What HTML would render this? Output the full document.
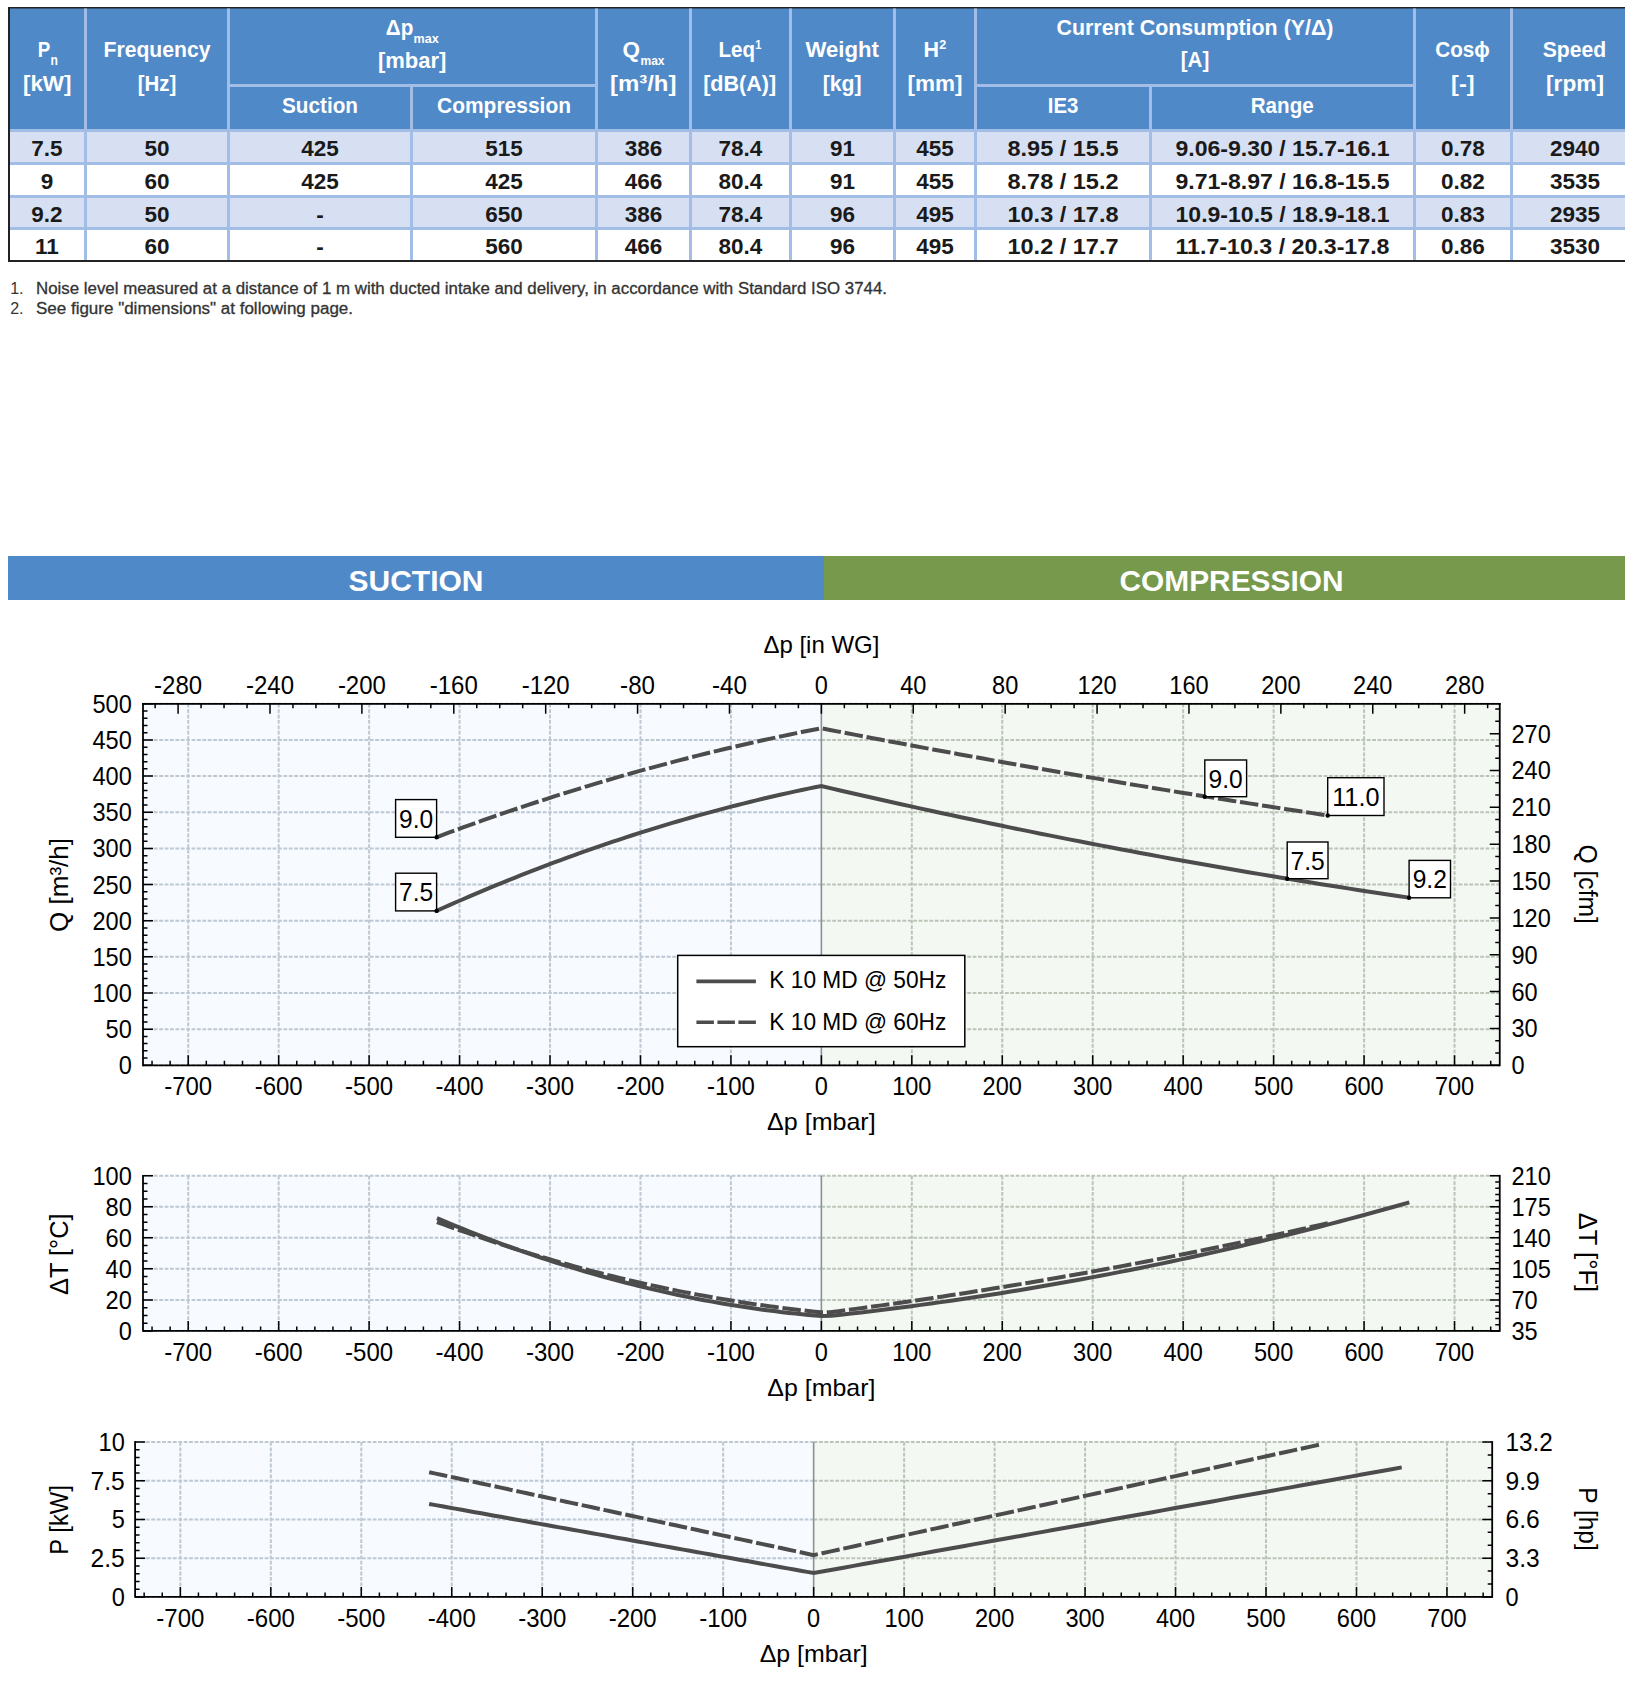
<!DOCTYPE html>
<html><head><meta charset="utf-8"><style>
html,body{margin:0;padding:0;background:#fff;}
body{width:1625px;height:1681px;overflow:hidden;position:relative;}
svg{position:absolute;left:0;top:0;}
text{font-family:"Liberation Sans",sans-serif;}
</style></head><body>
<svg width="1625" height="1681" viewBox="0 0 1625 1681">
<rect x="8" y="7" width="1617" height="255" fill="#222"/>
<rect x="10" y="8.5" width="1615" height="121" fill="#5089C8"/>
<rect x="10" y="132" width="1615" height="30" fill="#D7E0F2"/>
<rect x="10" y="165" width="1615" height="30" fill="#FFFFFF"/>
<rect x="10" y="198" width="1615" height="29" fill="#D7E0F2"/>
<rect x="10" y="230" width="1615" height="30" fill="#FFFFFF"/>
<rect x="10" y="129" width="1615" height="3" fill="#A3BEE6"/>
<rect x="10" y="162" width="1615" height="3" fill="#A3BEE6"/>
<rect x="10" y="195" width="1615" height="3" fill="#A3BEE6"/>
<rect x="10" y="227" width="1615" height="3" fill="#A3BEE6"/>
<rect x="8" y="260" width="1617" height="2" fill="#222"/>
<rect x="84" y="8.5" width="3" height="251.5" fill="#A3BEE6"/>
<rect x="227" y="8.5" width="3" height="251.5" fill="#A3BEE6"/>
<rect x="595" y="8.5" width="3" height="251.5" fill="#A3BEE6"/>
<rect x="689" y="8.5" width="3" height="251.5" fill="#A3BEE6"/>
<rect x="789" y="8.5" width="3" height="251.5" fill="#A3BEE6"/>
<rect x="893" y="8.5" width="3" height="251.5" fill="#A3BEE6"/>
<rect x="974" y="8.5" width="3" height="251.5" fill="#A3BEE6"/>
<rect x="1413" y="8.5" width="3" height="251.5" fill="#A3BEE6"/>
<rect x="1510" y="8.5" width="3" height="251.5" fill="#A3BEE6"/>
<rect x="410" y="84" width="3" height="176" fill="#A3BEE6"/>
<rect x="1149" y="84" width="3" height="176" fill="#A3BEE6"/>
<rect x="230" y="84" width="365" height="3" fill="#A3BEE6"/>
<rect x="977" y="84" width="436" height="3" fill="#A3BEE6"/>
<text x="37.80" y="57.20" font-size="22.5" text-anchor="start" fill="#FFFFFF" font-weight="bold" textLength="12.50" lengthAdjust="spacingAndGlyphs" >P</text>
<text x="50.40" y="65.30" font-size="14" text-anchor="start" fill="#FFFFFF" font-weight="bold" textLength="7.40" lengthAdjust="spacingAndGlyphs" >n</text>
<text x="47.20" y="90.80" font-size="22.5" text-anchor="middle" fill="#FFFFFF" font-weight="bold" textLength="48.50" lengthAdjust="spacingAndGlyphs" >[kW]</text>
<text x="157.00" y="57.20" font-size="22.5" text-anchor="middle" fill="#FFFFFF" font-weight="bold" textLength="107.00" lengthAdjust="spacingAndGlyphs" >Frequency</text>
<text x="157.00" y="90.80" font-size="22.5" text-anchor="middle" fill="#FFFFFF" font-weight="bold" textLength="38.50" lengthAdjust="spacingAndGlyphs" >[Hz]</text>
<text x="385.80" y="35.10" font-size="22.5" text-anchor="start" fill="#FFFFFF" font-weight="bold" textLength="27.50" lengthAdjust="spacingAndGlyphs" >Δp</text>
<text x="413.50" y="42.90" font-size="13" text-anchor="start" fill="#FFFFFF" font-weight="bold" textLength="25.20" lengthAdjust="spacingAndGlyphs" >max</text>
<text x="412.20" y="67.60" font-size="22.5" text-anchor="middle" fill="#FFFFFF" font-weight="bold" textLength="68.50" lengthAdjust="spacingAndGlyphs" >[mbar]</text>
<text x="320.00" y="113.00" font-size="22.5" text-anchor="middle" fill="#FFFFFF" font-weight="bold" textLength="76.00" lengthAdjust="spacingAndGlyphs" >Suction</text>
<text x="504.00" y="113.00" font-size="22.5" text-anchor="middle" fill="#FFFFFF" font-weight="bold" textLength="134.00" lengthAdjust="spacingAndGlyphs" >Compression</text>
<text x="622.50" y="57.20" font-size="22.5" text-anchor="start" fill="#FFFFFF" font-weight="bold" textLength="17.50" lengthAdjust="spacingAndGlyphs" >Q</text>
<text x="640.50" y="65.20" font-size="13" text-anchor="start" fill="#FFFFFF" font-weight="bold" textLength="24.00" lengthAdjust="spacingAndGlyphs" >max</text>
<text x="643.20" y="90.80" font-size="22.5" text-anchor="middle" fill="#FFFFFF" font-weight="bold" textLength="66.50" lengthAdjust="spacingAndGlyphs" >[m³/h]</text>
<text x="718.50" y="57.20" font-size="22.5" text-anchor="start" fill="#FFFFFF" font-weight="bold" textLength="36.50" lengthAdjust="spacingAndGlyphs" >Leq</text>
<text x="755.20" y="49.20" font-size="13" text-anchor="start" fill="#FFFFFF" font-weight="bold" textLength="6.20" lengthAdjust="spacingAndGlyphs" >1</text>
<text x="739.70" y="90.80" font-size="22.5" text-anchor="middle" fill="#FFFFFF" font-weight="bold" textLength="73.00" lengthAdjust="spacingAndGlyphs" >[dB(A)]</text>
<text x="842.20" y="57.20" font-size="22.5" text-anchor="middle" fill="#FFFFFF" font-weight="bold" textLength="73.50" lengthAdjust="spacingAndGlyphs" >Weight</text>
<text x="842.20" y="90.80" font-size="22.5" text-anchor="middle" fill="#FFFFFF" font-weight="bold" textLength="39.00" lengthAdjust="spacingAndGlyphs" >[kg]</text>
<text x="923.40" y="57.20" font-size="22.5" text-anchor="start" fill="#FFFFFF" font-weight="bold" textLength="15.50" lengthAdjust="spacingAndGlyphs" >H</text>
<text x="939.30" y="49.20" font-size="13" text-anchor="start" fill="#FFFFFF" font-weight="bold" textLength="7.00" lengthAdjust="spacingAndGlyphs" >2</text>
<text x="935.00" y="90.80" font-size="22.5" text-anchor="middle" fill="#FFFFFF" font-weight="bold" textLength="55.00" lengthAdjust="spacingAndGlyphs" >[mm]</text>
<text x="1195.00" y="34.80" font-size="22.5" text-anchor="middle" fill="#FFFFFF" font-weight="bold" textLength="277.00" lengthAdjust="spacingAndGlyphs" >Current Consumption (Y/Δ)</text>
<text x="1195.00" y="67.20" font-size="22.5" text-anchor="middle" fill="#FFFFFF" font-weight="bold" textLength="28.50" lengthAdjust="spacingAndGlyphs" >[A]</text>
<text x="1063.00" y="113.00" font-size="22.5" text-anchor="middle" fill="#FFFFFF" font-weight="bold" textLength="30.50" lengthAdjust="spacingAndGlyphs" >IE3</text>
<text x="1282.20" y="113.00" font-size="22.5" text-anchor="middle" fill="#FFFFFF" font-weight="bold" textLength="63.00" lengthAdjust="spacingAndGlyphs" >Range</text>
<text x="1462.60" y="57.20" font-size="22.5" text-anchor="middle" fill="#FFFFFF" font-weight="bold" textLength="54.50" lengthAdjust="spacingAndGlyphs" >Cosϕ</text>
<text x="1462.80" y="90.80" font-size="22.5" text-anchor="middle" fill="#FFFFFF" font-weight="bold" textLength="23.50" lengthAdjust="spacingAndGlyphs" >[-]</text>
<text x="1574.50" y="57.20" font-size="22.5" text-anchor="middle" fill="#FFFFFF" font-weight="bold" textLength="63.50" lengthAdjust="spacingAndGlyphs" >Speed</text>
<text x="1575.00" y="90.80" font-size="22.5" text-anchor="middle" fill="#FFFFFF" font-weight="bold" textLength="58.00" lengthAdjust="spacingAndGlyphs" >[rpm]</text>
<text x="47.00" y="155.70" font-size="22.5" text-anchor="middle" fill="#1A1A1A" font-weight="bold" >7.5</text>
<text x="157.00" y="155.70" font-size="22.5" text-anchor="middle" fill="#1A1A1A" font-weight="bold" >50</text>
<text x="320.00" y="155.70" font-size="22.5" text-anchor="middle" fill="#1A1A1A" font-weight="bold" >425</text>
<text x="504.00" y="155.70" font-size="22.5" text-anchor="middle" fill="#1A1A1A" font-weight="bold" >515</text>
<text x="643.50" y="155.70" font-size="22.5" text-anchor="middle" fill="#1A1A1A" font-weight="bold" >386</text>
<text x="740.50" y="155.70" font-size="22.5" text-anchor="middle" fill="#1A1A1A" font-weight="bold" >78.4</text>
<text x="842.50" y="155.70" font-size="22.5" text-anchor="middle" fill="#1A1A1A" font-weight="bold" >91</text>
<text x="935.00" y="155.70" font-size="22.5" text-anchor="middle" fill="#1A1A1A" font-weight="bold" >455</text>
<text x="1063.00" y="155.70" font-size="22.5" text-anchor="middle" fill="#1A1A1A" font-weight="bold" textLength="111.00" lengthAdjust="spacingAndGlyphs" >8.95 / 15.5</text>
<text x="1282.50" y="155.70" font-size="22.5" text-anchor="middle" fill="#1A1A1A" font-weight="bold" textLength="214.00" lengthAdjust="spacingAndGlyphs" >9.06-9.30 / 15.7-16.1</text>
<text x="1463.00" y="155.70" font-size="22.5" text-anchor="middle" fill="#1A1A1A" font-weight="bold" >0.78</text>
<text x="1575.00" y="155.70" font-size="22.5" text-anchor="middle" fill="#1A1A1A" font-weight="bold" >2940</text>
<text x="47.00" y="188.70" font-size="22.5" text-anchor="middle" fill="#1A1A1A" font-weight="bold" >9</text>
<text x="157.00" y="188.70" font-size="22.5" text-anchor="middle" fill="#1A1A1A" font-weight="bold" >60</text>
<text x="320.00" y="188.70" font-size="22.5" text-anchor="middle" fill="#1A1A1A" font-weight="bold" >425</text>
<text x="504.00" y="188.70" font-size="22.5" text-anchor="middle" fill="#1A1A1A" font-weight="bold" >425</text>
<text x="643.50" y="188.70" font-size="22.5" text-anchor="middle" fill="#1A1A1A" font-weight="bold" >466</text>
<text x="740.50" y="188.70" font-size="22.5" text-anchor="middle" fill="#1A1A1A" font-weight="bold" >80.4</text>
<text x="842.50" y="188.70" font-size="22.5" text-anchor="middle" fill="#1A1A1A" font-weight="bold" >91</text>
<text x="935.00" y="188.70" font-size="22.5" text-anchor="middle" fill="#1A1A1A" font-weight="bold" >455</text>
<text x="1063.00" y="188.70" font-size="22.5" text-anchor="middle" fill="#1A1A1A" font-weight="bold" textLength="111.00" lengthAdjust="spacingAndGlyphs" >8.78 / 15.2</text>
<text x="1282.50" y="188.70" font-size="22.5" text-anchor="middle" fill="#1A1A1A" font-weight="bold" textLength="214.00" lengthAdjust="spacingAndGlyphs" >9.71-8.97 / 16.8-15.5</text>
<text x="1463.00" y="188.70" font-size="22.5" text-anchor="middle" fill="#1A1A1A" font-weight="bold" >0.82</text>
<text x="1575.00" y="188.70" font-size="22.5" text-anchor="middle" fill="#1A1A1A" font-weight="bold" >3535</text>
<text x="47.00" y="221.70" font-size="22.5" text-anchor="middle" fill="#1A1A1A" font-weight="bold" >9.2</text>
<text x="157.00" y="221.70" font-size="22.5" text-anchor="middle" fill="#1A1A1A" font-weight="bold" >50</text>
<text x="320.00" y="221.70" font-size="22.5" text-anchor="middle" fill="#1A1A1A" font-weight="bold" >-</text>
<text x="504.00" y="221.70" font-size="22.5" text-anchor="middle" fill="#1A1A1A" font-weight="bold" >650</text>
<text x="643.50" y="221.70" font-size="22.5" text-anchor="middle" fill="#1A1A1A" font-weight="bold" >386</text>
<text x="740.50" y="221.70" font-size="22.5" text-anchor="middle" fill="#1A1A1A" font-weight="bold" >78.4</text>
<text x="842.50" y="221.70" font-size="22.5" text-anchor="middle" fill="#1A1A1A" font-weight="bold" >96</text>
<text x="935.00" y="221.70" font-size="22.5" text-anchor="middle" fill="#1A1A1A" font-weight="bold" >495</text>
<text x="1063.00" y="221.70" font-size="22.5" text-anchor="middle" fill="#1A1A1A" font-weight="bold" textLength="111.00" lengthAdjust="spacingAndGlyphs" >10.3 / 17.8</text>
<text x="1282.50" y="221.70" font-size="22.5" text-anchor="middle" fill="#1A1A1A" font-weight="bold" textLength="214.00" lengthAdjust="spacingAndGlyphs" >10.9-10.5 / 18.9-18.1</text>
<text x="1463.00" y="221.70" font-size="22.5" text-anchor="middle" fill="#1A1A1A" font-weight="bold" >0.83</text>
<text x="1575.00" y="221.70" font-size="22.5" text-anchor="middle" fill="#1A1A1A" font-weight="bold" >2935</text>
<text x="47.00" y="253.80" font-size="22.5" text-anchor="middle" fill="#1A1A1A" font-weight="bold" >11</text>
<text x="157.00" y="253.80" font-size="22.5" text-anchor="middle" fill="#1A1A1A" font-weight="bold" >60</text>
<text x="320.00" y="253.80" font-size="22.5" text-anchor="middle" fill="#1A1A1A" font-weight="bold" >-</text>
<text x="504.00" y="253.80" font-size="22.5" text-anchor="middle" fill="#1A1A1A" font-weight="bold" >560</text>
<text x="643.50" y="253.80" font-size="22.5" text-anchor="middle" fill="#1A1A1A" font-weight="bold" >466</text>
<text x="740.50" y="253.80" font-size="22.5" text-anchor="middle" fill="#1A1A1A" font-weight="bold" >80.4</text>
<text x="842.50" y="253.80" font-size="22.5" text-anchor="middle" fill="#1A1A1A" font-weight="bold" >96</text>
<text x="935.00" y="253.80" font-size="22.5" text-anchor="middle" fill="#1A1A1A" font-weight="bold" >495</text>
<text x="1063.00" y="253.80" font-size="22.5" text-anchor="middle" fill="#1A1A1A" font-weight="bold" textLength="111.00" lengthAdjust="spacingAndGlyphs" >10.2 / 17.7</text>
<text x="1282.50" y="253.80" font-size="22.5" text-anchor="middle" fill="#1A1A1A" font-weight="bold" textLength="214.00" lengthAdjust="spacingAndGlyphs" >11.7-10.3 / 20.3-17.8</text>
<text x="1463.00" y="253.80" font-size="22.5" text-anchor="middle" fill="#1A1A1A" font-weight="bold" >0.86</text>
<text x="1575.00" y="253.80" font-size="22.5" text-anchor="middle" fill="#1A1A1A" font-weight="bold" >3530</text>
<text x="10.20" y="294.00" font-size="16" text-anchor="start" fill="#333333" >1.</text>
<text x="36.00" y="294.00" font-size="16" text-anchor="start" fill="#333333" textLength="851.00" lengthAdjust="spacingAndGlyphs" stroke="#333" stroke-width="0.3">Noise level measured at a distance of 1 m with ducted intake and delivery, in accordance with Standard ISO 3744.</text>
<text x="10.20" y="314.30" font-size="16" text-anchor="start" fill="#333333" >2.</text>
<text x="36.00" y="314.30" font-size="16" text-anchor="start" fill="#333333" textLength="317.00" lengthAdjust="spacingAndGlyphs" stroke="#333" stroke-width="0.3">See figure "dimensions" at following page.</text>
<rect x="8" y="556" width="816" height="44" fill="#5089C8"/>
<rect x="824" y="556" width="801" height="44" fill="#76994C"/>
<text x="416.00" y="591.00" font-size="29.5" text-anchor="middle" fill="#FFFFFF" font-weight="bold" textLength="135.00" lengthAdjust="spacingAndGlyphs" >SUCTION</text>
<text x="1231.50" y="591.00" font-size="29.5" text-anchor="middle" fill="#FFFFFF" font-weight="bold" textLength="224.00" lengthAdjust="spacingAndGlyphs" >COMPRESSION</text>
<rect x="143" y="703.8" width="678.375" height="361.5" fill="#F7FAFE"/>
<rect x="821.375" y="703.8" width="678.375" height="361.5" fill="#F4F8F3"/>
<line x1="188.22" y1="703.8" x2="188.22" y2="1065.3" stroke="#BDC8D3" stroke-width="2" stroke-dasharray="3.8 1.6"/>
<line x1="278.68" y1="703.8" x2="278.68" y2="1065.3" stroke="#BDC8D3" stroke-width="2" stroke-dasharray="3.8 1.6"/>
<line x1="369.12" y1="703.8" x2="369.12" y2="1065.3" stroke="#BDC8D3" stroke-width="2" stroke-dasharray="3.8 1.6"/>
<line x1="459.57" y1="703.8" x2="459.57" y2="1065.3" stroke="#BDC8D3" stroke-width="2" stroke-dasharray="3.8 1.6"/>
<line x1="550.02" y1="703.8" x2="550.02" y2="1065.3" stroke="#BDC8D3" stroke-width="2" stroke-dasharray="3.8 1.6"/>
<line x1="640.47" y1="703.8" x2="640.47" y2="1065.3" stroke="#BDC8D3" stroke-width="2" stroke-dasharray="3.8 1.6"/>
<line x1="730.93" y1="703.8" x2="730.93" y2="1065.3" stroke="#BDC8D3" stroke-width="2" stroke-dasharray="3.8 1.6"/>
<line x1="911.82" y1="703.8" x2="911.82" y2="1065.3" stroke="#BAC5B8" stroke-width="2" stroke-dasharray="3.8 1.6"/>
<line x1="1002.27" y1="703.8" x2="1002.27" y2="1065.3" stroke="#BAC5B8" stroke-width="2" stroke-dasharray="3.8 1.6"/>
<line x1="1092.72" y1="703.8" x2="1092.72" y2="1065.3" stroke="#BAC5B8" stroke-width="2" stroke-dasharray="3.8 1.6"/>
<line x1="1183.18" y1="703.8" x2="1183.18" y2="1065.3" stroke="#BAC5B8" stroke-width="2" stroke-dasharray="3.8 1.6"/>
<line x1="1273.62" y1="703.8" x2="1273.62" y2="1065.3" stroke="#BAC5B8" stroke-width="2" stroke-dasharray="3.8 1.6"/>
<line x1="1364.08" y1="703.8" x2="1364.08" y2="1065.3" stroke="#BAC5B8" stroke-width="2" stroke-dasharray="3.8 1.6"/>
<line x1="1454.53" y1="703.8" x2="1454.53" y2="1065.3" stroke="#BAC5B8" stroke-width="2" stroke-dasharray="3.8 1.6"/>
<line x1="143" y1="1065.30" x2="821.38" y2="1065.30" stroke="#BDC8D3" stroke-width="2" stroke-dasharray="3.8 1.6"/>
<line x1="821.38" y1="1065.30" x2="1499.75" y2="1065.30" stroke="#BAC5B8" stroke-width="2" stroke-dasharray="3.8 1.6"/>
<line x1="143" y1="1029.15" x2="821.38" y2="1029.15" stroke="#BDC8D3" stroke-width="2" stroke-dasharray="3.8 1.6"/>
<line x1="821.38" y1="1029.15" x2="1499.75" y2="1029.15" stroke="#BAC5B8" stroke-width="2" stroke-dasharray="3.8 1.6"/>
<line x1="143" y1="993.00" x2="821.38" y2="993.00" stroke="#BDC8D3" stroke-width="2" stroke-dasharray="3.8 1.6"/>
<line x1="821.38" y1="993.00" x2="1499.75" y2="993.00" stroke="#BAC5B8" stroke-width="2" stroke-dasharray="3.8 1.6"/>
<line x1="143" y1="956.85" x2="821.38" y2="956.85" stroke="#BDC8D3" stroke-width="2" stroke-dasharray="3.8 1.6"/>
<line x1="821.38" y1="956.85" x2="1499.75" y2="956.85" stroke="#BAC5B8" stroke-width="2" stroke-dasharray="3.8 1.6"/>
<line x1="143" y1="920.70" x2="821.38" y2="920.70" stroke="#BDC8D3" stroke-width="2" stroke-dasharray="3.8 1.6"/>
<line x1="821.38" y1="920.70" x2="1499.75" y2="920.70" stroke="#BAC5B8" stroke-width="2" stroke-dasharray="3.8 1.6"/>
<line x1="143" y1="884.55" x2="821.38" y2="884.55" stroke="#BDC8D3" stroke-width="2" stroke-dasharray="3.8 1.6"/>
<line x1="821.38" y1="884.55" x2="1499.75" y2="884.55" stroke="#BAC5B8" stroke-width="2" stroke-dasharray="3.8 1.6"/>
<line x1="143" y1="848.40" x2="821.38" y2="848.40" stroke="#BDC8D3" stroke-width="2" stroke-dasharray="3.8 1.6"/>
<line x1="821.38" y1="848.40" x2="1499.75" y2="848.40" stroke="#BAC5B8" stroke-width="2" stroke-dasharray="3.8 1.6"/>
<line x1="143" y1="812.25" x2="821.38" y2="812.25" stroke="#BDC8D3" stroke-width="2" stroke-dasharray="3.8 1.6"/>
<line x1="821.38" y1="812.25" x2="1499.75" y2="812.25" stroke="#BAC5B8" stroke-width="2" stroke-dasharray="3.8 1.6"/>
<line x1="143" y1="776.10" x2="821.38" y2="776.10" stroke="#BDC8D3" stroke-width="2" stroke-dasharray="3.8 1.6"/>
<line x1="821.38" y1="776.10" x2="1499.75" y2="776.10" stroke="#BAC5B8" stroke-width="2" stroke-dasharray="3.8 1.6"/>
<line x1="143" y1="739.95" x2="821.38" y2="739.95" stroke="#BDC8D3" stroke-width="2" stroke-dasharray="3.8 1.6"/>
<line x1="821.38" y1="739.95" x2="1499.75" y2="739.95" stroke="#BAC5B8" stroke-width="2" stroke-dasharray="3.8 1.6"/>
<line x1="143" y1="703.80" x2="821.38" y2="703.80" stroke="#BDC8D3" stroke-width="2" stroke-dasharray="3.8 1.6"/>
<line x1="821.38" y1="703.80" x2="1499.75" y2="703.80" stroke="#BAC5B8" stroke-width="2" stroke-dasharray="3.8 1.6"/>
<line x1="821.38" y1="703.8" x2="821.38" y2="1065.3" stroke="#8A9290" stroke-width="1.6"/>
<polyline points="436.96,910.70 443.48,907.79 449.99,904.90 456.51,902.04 463.02,899.21 469.54,896.40 476.06,893.63 482.57,890.88 489.09,888.16 495.60,885.46 502.12,882.79 508.63,880.16 515.15,877.54 521.66,874.96 528.18,872.41 534.69,869.88 541.21,867.38 547.73,864.90 554.24,862.46 560.76,860.04 567.27,857.65 573.79,855.29 580.30,852.95 586.82,850.65 593.33,848.37 599.85,846.12 606.36,843.89 612.88,841.70 619.40,839.53 625.91,837.39 632.43,835.27 638.94,833.19 645.46,831.13 651.97,829.10 658.49,827.10 665.00,825.12 671.52,823.17 678.03,821.25 684.55,819.36 691.07,817.50 697.58,815.66 704.10,813.85 710.61,812.07 717.13,810.31 723.64,808.59 730.16,806.89 736.67,805.22 743.19,803.57 749.70,801.96 756.22,800.37 762.74,798.81 769.25,797.28 775.77,795.77 782.28,794.29 788.80,792.84 795.31,791.42 801.83,790.03 808.34,788.66 814.86,787.32 821.38,786.01 831.34,788.42 841.30,790.72 851.27,793.01 861.23,795.28 871.20,797.54 881.16,799.78 891.13,802.01 901.09,804.22 911.06,806.42 921.02,808.61 930.99,810.78 940.95,812.93 950.92,815.07 960.88,817.20 970.85,819.31 980.81,821.40 990.78,823.48 1000.74,825.55 1010.71,827.60 1020.67,829.64 1030.64,831.66 1040.60,833.67 1050.57,835.66 1060.53,837.64 1070.50,839.60 1080.46,841.55 1090.43,843.49 1100.39,845.41 1110.36,847.31 1120.32,849.20 1130.28,851.08 1140.25,852.94 1150.21,854.79 1160.18,856.62 1170.14,858.43 1180.11,860.24 1190.07,862.02 1200.04,863.80 1210.00,865.56 1219.97,867.30 1229.93,869.03 1239.90,870.74 1249.86,872.44 1259.83,874.13 1269.79,875.80 1279.76,877.45 1289.72,879.09 1299.69,880.72 1309.65,882.33 1319.62,883.93 1329.58,885.51 1339.55,887.08 1349.51,888.63 1359.48,890.17 1369.44,891.69 1379.41,893.20 1389.37,894.69 1399.34,896.17 1409.30,897.63" fill="none" stroke="#4C4C4C" stroke-width="4" stroke-linejoin="miter" />
<polyline points="436.96,837.06 443.48,834.63 449.99,832.22 456.51,829.84 463.02,827.47 469.54,825.12 476.06,822.80 482.57,820.49 489.09,818.21 495.60,815.94 502.12,813.69 508.63,811.47 515.15,809.26 521.66,807.08 528.18,804.91 534.69,802.77 541.21,800.64 547.73,798.53 554.24,796.45 560.76,794.38 567.27,792.34 573.79,790.31 580.30,788.31 586.82,786.32 593.33,784.36 599.85,782.41 606.36,780.49 612.88,778.58 619.40,776.70 625.91,774.83 632.43,772.99 638.94,771.17 645.46,769.36 651.97,767.58 658.49,765.81 665.00,764.07 671.52,762.34 678.03,760.64 684.55,758.96 691.07,757.29 697.58,755.65 704.10,754.02 710.61,752.42 717.13,750.84 723.64,749.27 730.16,747.73 736.67,746.21 743.19,744.70 749.70,743.22 756.22,741.76 762.74,740.31 769.25,738.89 775.77,737.49 782.28,736.10 788.80,734.74 795.31,733.40 801.83,732.07 808.34,730.77 814.86,729.49 821.38,728.23 829.96,729.94 838.55,731.60 847.13,733.25 855.72,734.90 864.30,736.54 872.89,738.18 881.47,739.80 890.06,741.43 898.64,743.04 907.23,744.65 915.81,746.25 924.40,747.85 932.98,749.44 941.57,751.02 950.15,752.59 958.74,754.16 967.32,755.73 975.91,757.28 984.49,758.83 993.08,760.38 1001.66,761.91 1010.25,763.44 1018.83,764.97 1027.42,766.48 1036.00,767.99 1044.59,769.50 1053.17,771.00 1061.76,772.49 1070.34,773.97 1078.93,775.45 1087.51,776.92 1096.10,778.38 1104.68,779.84 1113.27,781.29 1121.85,782.74 1130.44,784.18 1139.02,785.61 1147.61,787.03 1156.19,788.45 1164.78,789.86 1173.36,791.27 1181.95,792.67 1190.53,794.06 1199.12,795.45 1207.70,796.83 1216.29,798.20 1224.87,799.57 1233.46,800.93 1242.04,802.28 1250.63,803.63 1259.21,804.97 1267.80,806.30 1276.38,807.63 1284.97,808.95 1293.55,810.26 1302.14,811.57 1310.72,812.87 1319.31,814.16 1327.89,815.45" fill="none" stroke="#4C4C4C" stroke-width="4" stroke-linejoin="miter" stroke-dasharray="18.5 3.8"/>
<line x1="143" y1="1065.3" x2="1499.75" y2="1065.3" stroke="#000" stroke-width="1.8"/>
<line x1="143" y1="702.9" x2="143" y2="1066.2" stroke="#000" stroke-width="1.8"/>
<line x1="1499.75" y1="702.9" x2="1499.75" y2="1066.2" stroke="#000" stroke-width="1.8"/>
<line x1="142.1" y1="703.8" x2="1500.65" y2="703.8" stroke="#000" stroke-width="1.8"/>
<path d="M152.04,1065.3 v-4.5 M170.13,1065.3 v-4.5 M188.22,1065.3 v-10 M206.31,1065.3 v-4.5 M224.41,1065.3 v-4.5 M242.50,1065.3 v-4.5 M260.59,1065.3 v-4.5 M278.68,1065.3 v-10 M296.76,1065.3 v-4.5 M314.86,1065.3 v-4.5 M332.95,1065.3 v-4.5 M351.03,1065.3 v-4.5 M369.12,1065.3 v-10 M387.22,1065.3 v-4.5 M405.31,1065.3 v-4.5 M423.39,1065.3 v-4.5 M441.49,1065.3 v-4.5 M459.57,1065.3 v-10 M477.67,1065.3 v-4.5 M495.75,1065.3 v-4.5 M513.85,1065.3 v-4.5 M531.93,1065.3 v-4.5 M550.02,1065.3 v-10 M568.12,1065.3 v-4.5 M586.20,1065.3 v-4.5 M604.30,1065.3 v-4.5 M622.38,1065.3 v-4.5 M640.47,1065.3 v-10 M658.57,1065.3 v-4.5 M676.65,1065.3 v-4.5 M694.75,1065.3 v-4.5 M712.83,1065.3 v-4.5 M730.93,1065.3 v-10 M749.01,1065.3 v-4.5 M767.11,1065.3 v-4.5 M785.19,1065.3 v-4.5 M803.29,1065.3 v-4.5 M821.38,1065.3 v-10 M839.46,1065.3 v-4.5 M857.55,1065.3 v-4.5 M875.65,1065.3 v-4.5 M893.74,1065.3 v-4.5 M911.82,1065.3 v-10 M929.91,1065.3 v-4.5 M948.01,1065.3 v-4.5 M966.10,1065.3 v-4.5 M984.18,1065.3 v-4.5 M1002.27,1065.3 v-10 M1020.36,1065.3 v-4.5 M1038.45,1065.3 v-4.5 M1056.55,1065.3 v-4.5 M1074.63,1065.3 v-4.5 M1092.72,1065.3 v-10 M1110.82,1065.3 v-4.5 M1128.90,1065.3 v-4.5 M1146.99,1065.3 v-4.5 M1165.09,1065.3 v-4.5 M1183.18,1065.3 v-10 M1201.27,1065.3 v-4.5 M1219.36,1065.3 v-4.5 M1237.44,1065.3 v-4.5 M1255.53,1065.3 v-4.5 M1273.62,1065.3 v-10 M1291.71,1065.3 v-4.5 M1309.81,1065.3 v-4.5 M1327.89,1065.3 v-4.5 M1345.99,1065.3 v-4.5 M1364.08,1065.3 v-10 M1382.16,1065.3 v-4.5 M1400.25,1065.3 v-4.5 M1418.35,1065.3 v-4.5 M1436.43,1065.3 v-4.5 M1454.53,1065.3 v-10 M1472.62,1065.3 v-4.5 M1490.70,1065.3 v-4.5 M143,1065.30 h10 M143,1058.07 h4.5 M143,1050.84 h4.5 M143,1043.61 h4.5 M143,1036.38 h4.5 M143,1029.15 h10 M143,1021.92 h4.5 M143,1014.69 h4.5 M143,1007.46 h4.5 M143,1000.23 h4.5 M143,993.00 h10 M143,985.77 h4.5 M143,978.54 h4.5 M143,971.31 h4.5 M143,964.08 h4.5 M143,956.85 h10 M143,949.62 h4.5 M143,942.39 h4.5 M143,935.16 h4.5 M143,927.93 h4.5 M143,920.70 h10 M143,913.47 h4.5 M143,906.24 h4.5 M143,899.01 h4.5 M143,891.78 h4.5 M143,884.55 h10 M143,877.32 h4.5 M143,870.09 h4.5 M143,862.86 h4.5 M143,855.63 h4.5 M143,848.40 h10 M143,841.17 h4.5 M143,833.94 h4.5 M143,826.71 h4.5 M143,819.48 h4.5 M143,812.25 h10 M143,805.02 h4.5 M143,797.79 h4.5 M143,790.56 h4.5 M143,783.33 h4.5 M143,776.10 h10 M143,768.87 h4.5 M143,761.64 h4.5 M143,754.41 h4.5 M143,747.18 h4.5 M143,739.95 h10 M143,732.72 h4.5 M143,725.49 h4.5 M143,718.26 h4.5 M143,711.03 h4.5 M143,703.80 h10 M1499.75,1065.30 h-10 M1499.75,1053.02 h-4.5 M1499.75,1040.73 h-4.5 M1499.75,1028.45 h-10 M1499.75,1016.16 h-4.5 M1499.75,1003.88 h-4.5 M1499.75,991.60 h-10 M1499.75,979.31 h-4.5 M1499.75,967.03 h-4.5 M1499.75,954.75 h-10 M1499.75,942.46 h-4.5 M1499.75,930.18 h-4.5 M1499.75,917.89 h-10 M1499.75,905.61 h-4.5 M1499.75,893.33 h-4.5 M1499.75,881.04 h-10 M1499.75,868.76 h-4.5 M1499.75,856.48 h-4.5 M1499.75,844.19 h-10 M1499.75,831.91 h-4.5 M1499.75,819.62 h-4.5 M1499.75,807.34 h-10 M1499.75,795.06 h-4.5 M1499.75,782.77 h-4.5 M1499.75,770.49 h-10 M1499.75,758.21 h-4.5 M1499.75,745.92 h-4.5 M1499.75,733.64 h-10 M1499.75,721.35 h-4.5 M1499.75,709.07 h-4.5 M155.12,703.8 v4.5 M178.09,703.8 v10 M201.07,703.8 v4.5 M224.04,703.8 v4.5 M247.02,703.8 v4.5 M269.99,703.8 v10 M292.97,703.8 v4.5 M315.94,703.8 v4.5 M338.91,703.8 v4.5 M361.89,703.8 v10 M384.86,703.8 v4.5 M407.84,703.8 v4.5 M430.81,703.8 v4.5 M453.79,703.8 v10 M476.76,703.8 v4.5 M499.73,703.8 v4.5 M522.71,703.8 v4.5 M545.68,703.8 v10 M568.66,703.8 v4.5 M591.63,703.8 v4.5 M614.61,703.8 v4.5 M637.58,703.8 v10 M660.55,703.8 v4.5 M683.53,703.8 v4.5 M706.50,703.8 v4.5 M729.48,703.8 v10 M752.45,703.8 v4.5 M775.43,703.8 v4.5 M798.40,703.8 v4.5 M821.38,703.8 v10 M844.35,703.8 v4.5 M867.32,703.8 v4.5 M890.30,703.8 v4.5 M913.27,703.8 v10 M936.25,703.8 v4.5 M959.22,703.8 v4.5 M982.20,703.8 v4.5 M1005.17,703.8 v10 M1028.14,703.8 v4.5 M1051.12,703.8 v4.5 M1074.09,703.8 v4.5 M1097.07,703.8 v10 M1120.04,703.8 v4.5 M1143.02,703.8 v4.5 M1165.99,703.8 v4.5 M1188.96,703.8 v10 M1211.94,703.8 v4.5 M1234.91,703.8 v4.5 M1257.89,703.8 v4.5 M1280.86,703.8 v10 M1303.84,703.8 v4.5 M1326.81,703.8 v4.5 M1349.78,703.8 v4.5 M1372.76,703.8 v10 M1395.73,703.8 v4.5 M1418.71,703.8 v4.5 M1441.68,703.8 v4.5 M1464.66,703.8 v10 M1487.63,703.8 v4.5" stroke="#000" stroke-width="1.5" fill="none"/>
<text x="188.22" y="1095.00" font-size="25" text-anchor="middle" fill="#000" textLength="48.02" lengthAdjust="spacingAndGlyphs" >-700</text>
<text x="278.68" y="1095.00" font-size="25" text-anchor="middle" fill="#000" textLength="48.02" lengthAdjust="spacingAndGlyphs" >-600</text>
<text x="369.12" y="1095.00" font-size="25" text-anchor="middle" fill="#000" textLength="48.02" lengthAdjust="spacingAndGlyphs" >-500</text>
<text x="459.57" y="1095.00" font-size="25" text-anchor="middle" fill="#000" textLength="48.02" lengthAdjust="spacingAndGlyphs" >-400</text>
<text x="550.02" y="1095.00" font-size="25" text-anchor="middle" fill="#000" textLength="48.02" lengthAdjust="spacingAndGlyphs" >-300</text>
<text x="640.47" y="1095.00" font-size="25" text-anchor="middle" fill="#000" textLength="48.02" lengthAdjust="spacingAndGlyphs" >-200</text>
<text x="730.93" y="1095.00" font-size="25" text-anchor="middle" fill="#000" textLength="48.02" lengthAdjust="spacingAndGlyphs" >-100</text>
<text x="821.38" y="1095.00" font-size="25" text-anchor="middle" fill="#000" textLength="13.10" lengthAdjust="spacingAndGlyphs" >0</text>
<text x="911.82" y="1095.00" font-size="25" text-anchor="middle" fill="#000" textLength="39.31" lengthAdjust="spacingAndGlyphs" >100</text>
<text x="1002.27" y="1095.00" font-size="25" text-anchor="middle" fill="#000" textLength="39.31" lengthAdjust="spacingAndGlyphs" >200</text>
<text x="1092.72" y="1095.00" font-size="25" text-anchor="middle" fill="#000" textLength="39.31" lengthAdjust="spacingAndGlyphs" >300</text>
<text x="1183.18" y="1095.00" font-size="25" text-anchor="middle" fill="#000" textLength="39.31" lengthAdjust="spacingAndGlyphs" >400</text>
<text x="1273.62" y="1095.00" font-size="25" text-anchor="middle" fill="#000" textLength="39.31" lengthAdjust="spacingAndGlyphs" >500</text>
<text x="1364.08" y="1095.00" font-size="25" text-anchor="middle" fill="#000" textLength="39.31" lengthAdjust="spacingAndGlyphs" >600</text>
<text x="1454.53" y="1095.00" font-size="25" text-anchor="middle" fill="#000" textLength="39.31" lengthAdjust="spacingAndGlyphs" >700</text>
<text x="821.38" y="1130.00" font-size="24" text-anchor="middle" fill="#000" textLength="108.50" lengthAdjust="spacingAndGlyphs" >Δp [mbar]</text>
<text x="131.80" y="1074.30" font-size="25" text-anchor="end" fill="#000" textLength="13.10" lengthAdjust="spacingAndGlyphs" >0</text>
<text x="131.80" y="1038.15" font-size="25" text-anchor="end" fill="#000" textLength="26.21" lengthAdjust="spacingAndGlyphs" >50</text>
<text x="131.80" y="1002.00" font-size="25" text-anchor="end" fill="#000" textLength="39.31" lengthAdjust="spacingAndGlyphs" >100</text>
<text x="131.80" y="965.85" font-size="25" text-anchor="end" fill="#000" textLength="39.31" lengthAdjust="spacingAndGlyphs" >150</text>
<text x="131.80" y="929.70" font-size="25" text-anchor="end" fill="#000" textLength="39.31" lengthAdjust="spacingAndGlyphs" >200</text>
<text x="131.80" y="893.55" font-size="25" text-anchor="end" fill="#000" textLength="39.31" lengthAdjust="spacingAndGlyphs" >250</text>
<text x="131.80" y="857.40" font-size="25" text-anchor="end" fill="#000" textLength="39.31" lengthAdjust="spacingAndGlyphs" >300</text>
<text x="131.80" y="821.25" font-size="25" text-anchor="end" fill="#000" textLength="39.31" lengthAdjust="spacingAndGlyphs" >350</text>
<text x="131.80" y="785.10" font-size="25" text-anchor="end" fill="#000" textLength="39.31" lengthAdjust="spacingAndGlyphs" >400</text>
<text x="131.80" y="748.95" font-size="25" text-anchor="end" fill="#000" textLength="39.31" lengthAdjust="spacingAndGlyphs" >450</text>
<text x="131.80" y="712.80" font-size="25" text-anchor="end" fill="#000" textLength="39.31" lengthAdjust="spacingAndGlyphs" >500</text>
<text x="1511.50" y="1074.30" font-size="25" text-anchor="start" fill="#000" textLength="13.10" lengthAdjust="spacingAndGlyphs" >0</text>
<text x="1511.50" y="1037.45" font-size="25" text-anchor="start" fill="#000" textLength="26.21" lengthAdjust="spacingAndGlyphs" >30</text>
<text x="1511.50" y="1000.60" font-size="25" text-anchor="start" fill="#000" textLength="26.21" lengthAdjust="spacingAndGlyphs" >60</text>
<text x="1511.50" y="963.75" font-size="25" text-anchor="start" fill="#000" textLength="26.21" lengthAdjust="spacingAndGlyphs" >90</text>
<text x="1511.50" y="926.89" font-size="25" text-anchor="start" fill="#000" textLength="39.31" lengthAdjust="spacingAndGlyphs" >120</text>
<text x="1511.50" y="890.04" font-size="25" text-anchor="start" fill="#000" textLength="39.31" lengthAdjust="spacingAndGlyphs" >150</text>
<text x="1511.50" y="853.19" font-size="25" text-anchor="start" fill="#000" textLength="39.31" lengthAdjust="spacingAndGlyphs" >180</text>
<text x="1511.50" y="816.34" font-size="25" text-anchor="start" fill="#000" textLength="39.31" lengthAdjust="spacingAndGlyphs" >210</text>
<text x="1511.50" y="779.49" font-size="25" text-anchor="start" fill="#000" textLength="39.31" lengthAdjust="spacingAndGlyphs" >240</text>
<text x="1511.50" y="742.64" font-size="25" text-anchor="start" fill="#000" textLength="39.31" lengthAdjust="spacingAndGlyphs" >270</text>
<text transform="translate(67.8,885) rotate(-90)" x="0" y="0" font-size="25" text-anchor="middle" textLength="94" lengthAdjust="spacingAndGlyphs">Q [m³/h]</text>
<text transform="translate(1579,884.2) rotate(90)" x="0" y="0" font-size="25" text-anchor="middle" textLength="79.5" lengthAdjust="spacingAndGlyphs">Q [cfm]</text>
<text x="178.09" y="693.50" font-size="25" text-anchor="middle" fill="#000" textLength="48.02" lengthAdjust="spacingAndGlyphs" >-280</text>
<text x="269.99" y="693.50" font-size="25" text-anchor="middle" fill="#000" textLength="48.02" lengthAdjust="spacingAndGlyphs" >-240</text>
<text x="361.89" y="693.50" font-size="25" text-anchor="middle" fill="#000" textLength="48.02" lengthAdjust="spacingAndGlyphs" >-200</text>
<text x="453.79" y="693.50" font-size="25" text-anchor="middle" fill="#000" textLength="48.02" lengthAdjust="spacingAndGlyphs" >-160</text>
<text x="545.68" y="693.50" font-size="25" text-anchor="middle" fill="#000" textLength="48.02" lengthAdjust="spacingAndGlyphs" >-120</text>
<text x="637.58" y="693.50" font-size="25" text-anchor="middle" fill="#000" textLength="34.92" lengthAdjust="spacingAndGlyphs" >-80</text>
<text x="729.48" y="693.50" font-size="25" text-anchor="middle" fill="#000" textLength="34.92" lengthAdjust="spacingAndGlyphs" >-40</text>
<text x="821.38" y="693.50" font-size="25" text-anchor="middle" fill="#000" textLength="13.10" lengthAdjust="spacingAndGlyphs" >0</text>
<text x="913.27" y="693.50" font-size="25" text-anchor="middle" fill="#000" textLength="26.21" lengthAdjust="spacingAndGlyphs" >40</text>
<text x="1005.17" y="693.50" font-size="25" text-anchor="middle" fill="#000" textLength="26.21" lengthAdjust="spacingAndGlyphs" >80</text>
<text x="1097.07" y="693.50" font-size="25" text-anchor="middle" fill="#000" textLength="39.31" lengthAdjust="spacingAndGlyphs" >120</text>
<text x="1188.96" y="693.50" font-size="25" text-anchor="middle" fill="#000" textLength="39.31" lengthAdjust="spacingAndGlyphs" >160</text>
<text x="1280.86" y="693.50" font-size="25" text-anchor="middle" fill="#000" textLength="39.31" lengthAdjust="spacingAndGlyphs" >200</text>
<text x="1372.76" y="693.50" font-size="25" text-anchor="middle" fill="#000" textLength="39.31" lengthAdjust="spacingAndGlyphs" >240</text>
<text x="1464.66" y="693.50" font-size="25" text-anchor="middle" fill="#000" textLength="39.31" lengthAdjust="spacingAndGlyphs" >280</text>
<text x="821.38" y="653.00" font-size="24" text-anchor="middle" fill="#000" textLength="116.00" lengthAdjust="spacingAndGlyphs" >Δp [in WG]</text>
<rect x="143" y="1175.8" width="678.375" height="155.10000000000014" fill="#F7FAFE"/>
<rect x="821.375" y="1175.8" width="678.375" height="155.10000000000014" fill="#F4F8F3"/>
<line x1="188.22" y1="1175.8" x2="188.22" y2="1330.9" stroke="#BDC8D3" stroke-width="2" stroke-dasharray="3.8 1.6"/>
<line x1="278.68" y1="1175.8" x2="278.68" y2="1330.9" stroke="#BDC8D3" stroke-width="2" stroke-dasharray="3.8 1.6"/>
<line x1="369.12" y1="1175.8" x2="369.12" y2="1330.9" stroke="#BDC8D3" stroke-width="2" stroke-dasharray="3.8 1.6"/>
<line x1="459.57" y1="1175.8" x2="459.57" y2="1330.9" stroke="#BDC8D3" stroke-width="2" stroke-dasharray="3.8 1.6"/>
<line x1="550.02" y1="1175.8" x2="550.02" y2="1330.9" stroke="#BDC8D3" stroke-width="2" stroke-dasharray="3.8 1.6"/>
<line x1="640.47" y1="1175.8" x2="640.47" y2="1330.9" stroke="#BDC8D3" stroke-width="2" stroke-dasharray="3.8 1.6"/>
<line x1="730.93" y1="1175.8" x2="730.93" y2="1330.9" stroke="#BDC8D3" stroke-width="2" stroke-dasharray="3.8 1.6"/>
<line x1="911.82" y1="1175.8" x2="911.82" y2="1330.9" stroke="#BAC5B8" stroke-width="2" stroke-dasharray="3.8 1.6"/>
<line x1="1002.27" y1="1175.8" x2="1002.27" y2="1330.9" stroke="#BAC5B8" stroke-width="2" stroke-dasharray="3.8 1.6"/>
<line x1="1092.72" y1="1175.8" x2="1092.72" y2="1330.9" stroke="#BAC5B8" stroke-width="2" stroke-dasharray="3.8 1.6"/>
<line x1="1183.18" y1="1175.8" x2="1183.18" y2="1330.9" stroke="#BAC5B8" stroke-width="2" stroke-dasharray="3.8 1.6"/>
<line x1="1273.62" y1="1175.8" x2="1273.62" y2="1330.9" stroke="#BAC5B8" stroke-width="2" stroke-dasharray="3.8 1.6"/>
<line x1="1364.08" y1="1175.8" x2="1364.08" y2="1330.9" stroke="#BAC5B8" stroke-width="2" stroke-dasharray="3.8 1.6"/>
<line x1="1454.53" y1="1175.8" x2="1454.53" y2="1330.9" stroke="#BAC5B8" stroke-width="2" stroke-dasharray="3.8 1.6"/>
<line x1="143" y1="1330.90" x2="821.38" y2="1330.90" stroke="#BDC8D3" stroke-width="2" stroke-dasharray="3.8 1.6"/>
<line x1="821.38" y1="1330.90" x2="1499.75" y2="1330.90" stroke="#BAC5B8" stroke-width="2" stroke-dasharray="3.8 1.6"/>
<line x1="143" y1="1299.88" x2="821.38" y2="1299.88" stroke="#BDC8D3" stroke-width="2" stroke-dasharray="3.8 1.6"/>
<line x1="821.38" y1="1299.88" x2="1499.75" y2="1299.88" stroke="#BAC5B8" stroke-width="2" stroke-dasharray="3.8 1.6"/>
<line x1="143" y1="1268.86" x2="821.38" y2="1268.86" stroke="#BDC8D3" stroke-width="2" stroke-dasharray="3.8 1.6"/>
<line x1="821.38" y1="1268.86" x2="1499.75" y2="1268.86" stroke="#BAC5B8" stroke-width="2" stroke-dasharray="3.8 1.6"/>
<line x1="143" y1="1237.84" x2="821.38" y2="1237.84" stroke="#BDC8D3" stroke-width="2" stroke-dasharray="3.8 1.6"/>
<line x1="821.38" y1="1237.84" x2="1499.75" y2="1237.84" stroke="#BAC5B8" stroke-width="2" stroke-dasharray="3.8 1.6"/>
<line x1="143" y1="1206.82" x2="821.38" y2="1206.82" stroke="#BDC8D3" stroke-width="2" stroke-dasharray="3.8 1.6"/>
<line x1="821.38" y1="1206.82" x2="1499.75" y2="1206.82" stroke="#BAC5B8" stroke-width="2" stroke-dasharray="3.8 1.6"/>
<line x1="143" y1="1175.80" x2="821.38" y2="1175.80" stroke="#BDC8D3" stroke-width="2" stroke-dasharray="3.8 1.6"/>
<line x1="821.38" y1="1175.80" x2="1499.75" y2="1175.80" stroke="#BAC5B8" stroke-width="2" stroke-dasharray="3.8 1.6"/>
<line x1="821.38" y1="1175.8" x2="821.38" y2="1330.9" stroke="#8A9290" stroke-width="1.6"/>
<polyline points="436.96,1218.17 443.48,1220.92 449.99,1223.64 456.51,1226.32 463.02,1228.96 469.54,1231.57 476.06,1234.14 482.57,1236.67 489.09,1239.16 495.60,1241.61 502.12,1244.03 508.63,1246.41 515.15,1248.75 521.66,1251.05 528.18,1253.31 534.69,1255.54 541.21,1257.73 547.73,1259.88 554.24,1261.99 560.76,1264.07 567.27,1266.11 573.79,1268.11 580.30,1270.07 586.82,1271.99 593.33,1273.88 599.85,1275.73 606.36,1277.54 612.88,1279.31 619.40,1281.05 625.91,1282.75 632.43,1284.41 638.94,1286.03 645.46,1287.61 651.97,1289.16 658.49,1290.67 665.00,1292.14 671.52,1293.57 678.03,1294.96 684.55,1296.32 691.07,1297.64 697.58,1298.92 704.10,1300.17 710.61,1301.37 717.13,1302.54 723.64,1303.67 730.16,1304.76 736.67,1305.82 743.19,1306.83 749.70,1307.81 756.22,1308.75 762.74,1309.66 769.25,1310.52 775.77,1311.35 782.28,1312.14 788.80,1312.89 795.31,1313.61 801.83,1314.28 808.34,1314.92 814.86,1315.52 821.38,1316.09 831.34,1315.75 841.30,1314.67 851.27,1313.55 861.23,1312.41 871.20,1311.23 881.16,1310.02 891.13,1308.79 901.09,1307.52 911.06,1306.22 921.02,1304.89 930.99,1303.53 940.95,1302.14 950.92,1300.72 960.88,1299.27 970.85,1297.79 980.81,1296.28 990.78,1294.74 1000.74,1293.16 1010.71,1291.56 1020.67,1289.93 1030.64,1288.26 1040.60,1286.57 1050.57,1284.84 1060.53,1283.09 1070.50,1281.30 1080.46,1279.48 1090.43,1277.63 1100.39,1275.76 1110.36,1273.85 1120.32,1271.91 1130.28,1269.94 1140.25,1267.94 1150.21,1265.91 1160.18,1263.85 1170.14,1261.75 1180.11,1259.63 1190.07,1257.48 1200.04,1255.30 1210.00,1253.08 1219.97,1250.84 1229.93,1248.56 1239.90,1246.26 1249.86,1243.92 1259.83,1241.55 1269.79,1239.16 1279.76,1236.73 1289.72,1234.27 1299.69,1231.78 1309.65,1229.26 1319.62,1226.71 1329.58,1224.13 1339.55,1221.52 1349.51,1218.88 1359.48,1216.21 1369.44,1213.51 1379.41,1210.78 1389.37,1208.01 1399.34,1205.22 1409.30,1202.39" fill="none" stroke="#4C4C4C" stroke-width="4" stroke-linejoin="miter" />
<polyline points="436.96,1222.00 443.48,1224.40 449.99,1226.77 456.51,1229.11 463.02,1231.42 469.54,1233.70 476.06,1235.95 482.57,1238.17 489.09,1240.36 495.60,1242.52 502.12,1244.65 508.63,1246.75 515.15,1248.82 521.66,1250.86 528.18,1252.87 534.69,1254.85 541.21,1256.80 547.73,1258.72 554.24,1260.61 560.76,1262.47 567.27,1264.30 573.79,1266.10 580.30,1267.87 586.82,1269.61 593.33,1271.32 599.85,1273.00 606.36,1274.65 612.88,1276.28 619.40,1277.87 625.91,1279.43 632.43,1280.96 638.94,1282.46 645.46,1283.93 651.97,1285.37 658.49,1286.79 665.00,1288.17 671.52,1289.52 678.03,1290.84 684.55,1292.13 691.07,1293.40 697.58,1294.63 704.10,1295.83 710.61,1297.00 717.13,1298.15 723.64,1299.26 730.16,1300.34 736.67,1301.39 743.19,1302.42 749.70,1303.41 756.22,1304.37 762.74,1305.31 769.25,1306.21 775.77,1307.08 782.28,1307.93 788.80,1308.74 795.31,1309.52 801.83,1310.28 808.34,1311.00 814.86,1311.69 821.38,1312.36 829.96,1312.26 838.55,1311.15 847.13,1310.03 855.72,1308.88 864.30,1307.73 872.89,1306.56 881.47,1305.37 890.06,1304.17 898.64,1302.95 907.23,1301.72 915.81,1300.48 924.40,1299.22 932.98,1297.94 941.57,1296.65 950.15,1295.35 958.74,1294.03 967.32,1292.69 975.91,1291.34 984.49,1289.97 993.08,1288.59 1001.66,1287.20 1010.25,1285.79 1018.83,1284.36 1027.42,1282.92 1036.00,1281.47 1044.59,1280.00 1053.17,1278.51 1061.76,1277.01 1070.34,1275.50 1078.93,1273.97 1087.51,1272.43 1096.10,1270.87 1104.68,1269.29 1113.27,1267.70 1121.85,1266.10 1130.44,1264.48 1139.02,1262.85 1147.61,1261.20 1156.19,1259.53 1164.78,1257.85 1173.36,1256.16 1181.95,1254.45 1190.53,1252.73 1199.12,1250.99 1207.70,1249.23 1216.29,1247.47 1224.87,1245.68 1233.46,1243.88 1242.04,1242.07 1250.63,1240.24 1259.21,1238.40 1267.80,1236.54 1276.38,1234.67 1284.97,1232.78 1293.55,1230.88 1302.14,1228.96 1310.72,1227.02 1319.31,1225.08 1327.89,1223.11" fill="none" stroke="#4C4C4C" stroke-width="4" stroke-linejoin="miter" stroke-dasharray="18.5 3.8"/>
<line x1="143" y1="1330.9" x2="1499.75" y2="1330.9" stroke="#000" stroke-width="1.8"/>
<line x1="143" y1="1174.8999999999999" x2="143" y2="1331.8000000000002" stroke="#000" stroke-width="1.8"/>
<line x1="1499.75" y1="1174.8999999999999" x2="1499.75" y2="1331.8000000000002" stroke="#000" stroke-width="1.8"/>
<path d="M152.04,1330.9 v-4.5 M170.13,1330.9 v-4.5 M188.22,1330.9 v-10 M206.31,1330.9 v-4.5 M224.41,1330.9 v-4.5 M242.50,1330.9 v-4.5 M260.59,1330.9 v-4.5 M278.68,1330.9 v-10 M296.76,1330.9 v-4.5 M314.86,1330.9 v-4.5 M332.95,1330.9 v-4.5 M351.03,1330.9 v-4.5 M369.12,1330.9 v-10 M387.22,1330.9 v-4.5 M405.31,1330.9 v-4.5 M423.39,1330.9 v-4.5 M441.49,1330.9 v-4.5 M459.57,1330.9 v-10 M477.67,1330.9 v-4.5 M495.75,1330.9 v-4.5 M513.85,1330.9 v-4.5 M531.93,1330.9 v-4.5 M550.02,1330.9 v-10 M568.12,1330.9 v-4.5 M586.20,1330.9 v-4.5 M604.30,1330.9 v-4.5 M622.38,1330.9 v-4.5 M640.47,1330.9 v-10 M658.57,1330.9 v-4.5 M676.65,1330.9 v-4.5 M694.75,1330.9 v-4.5 M712.83,1330.9 v-4.5 M730.93,1330.9 v-10 M749.01,1330.9 v-4.5 M767.11,1330.9 v-4.5 M785.19,1330.9 v-4.5 M803.29,1330.9 v-4.5 M821.38,1330.9 v-10 M839.46,1330.9 v-4.5 M857.55,1330.9 v-4.5 M875.65,1330.9 v-4.5 M893.74,1330.9 v-4.5 M911.82,1330.9 v-10 M929.91,1330.9 v-4.5 M948.01,1330.9 v-4.5 M966.10,1330.9 v-4.5 M984.18,1330.9 v-4.5 M1002.27,1330.9 v-10 M1020.36,1330.9 v-4.5 M1038.45,1330.9 v-4.5 M1056.55,1330.9 v-4.5 M1074.63,1330.9 v-4.5 M1092.72,1330.9 v-10 M1110.82,1330.9 v-4.5 M1128.90,1330.9 v-4.5 M1146.99,1330.9 v-4.5 M1165.09,1330.9 v-4.5 M1183.18,1330.9 v-10 M1201.27,1330.9 v-4.5 M1219.36,1330.9 v-4.5 M1237.44,1330.9 v-4.5 M1255.53,1330.9 v-4.5 M1273.62,1330.9 v-10 M1291.71,1330.9 v-4.5 M1309.81,1330.9 v-4.5 M1327.89,1330.9 v-4.5 M1345.99,1330.9 v-4.5 M1364.08,1330.9 v-10 M1382.16,1330.9 v-4.5 M1400.25,1330.9 v-4.5 M1418.35,1330.9 v-4.5 M1436.43,1330.9 v-4.5 M1454.53,1330.9 v-10 M1472.62,1330.9 v-4.5 M1490.70,1330.9 v-4.5 M143,1330.90 h10 M143,1323.14 h4.5 M143,1315.39 h4.5 M143,1307.63 h4.5 M143,1299.88 h10 M143,1292.12 h4.5 M143,1284.37 h4.5 M143,1276.62 h4.5 M143,1268.86 h10 M143,1261.11 h4.5 M143,1253.35 h4.5 M143,1245.60 h4.5 M143,1237.84 h10 M143,1230.09 h4.5 M143,1222.33 h4.5 M143,1214.58 h4.5 M143,1206.82 h10 M143,1199.07 h4.5 M143,1191.31 h4.5 M143,1183.56 h4.5 M143,1175.80 h10 M1499.75,1330.90 h-10 M1499.75,1324.70 h-4.5 M1499.75,1318.49 h-4.5 M1499.75,1312.29 h-4.5 M1499.75,1306.08 h-4.5 M1499.75,1299.88 h-10 M1499.75,1293.68 h-4.5 M1499.75,1287.47 h-4.5 M1499.75,1281.27 h-4.5 M1499.75,1275.06 h-4.5 M1499.75,1268.86 h-10 M1499.75,1262.66 h-4.5 M1499.75,1256.45 h-4.5 M1499.75,1250.25 h-4.5 M1499.75,1244.04 h-4.5 M1499.75,1237.84 h-10 M1499.75,1231.64 h-4.5 M1499.75,1225.43 h-4.5 M1499.75,1219.23 h-4.5 M1499.75,1213.02 h-4.5 M1499.75,1206.82 h-10 M1499.75,1200.62 h-4.5 M1499.75,1194.41 h-4.5 M1499.75,1188.21 h-4.5 M1499.75,1182.00 h-4.5 M1499.75,1175.80 h-10" stroke="#000" stroke-width="1.5" fill="none"/>
<text x="188.22" y="1360.50" font-size="25" text-anchor="middle" fill="#000" textLength="48.02" lengthAdjust="spacingAndGlyphs" >-700</text>
<text x="278.68" y="1360.50" font-size="25" text-anchor="middle" fill="#000" textLength="48.02" lengthAdjust="spacingAndGlyphs" >-600</text>
<text x="369.12" y="1360.50" font-size="25" text-anchor="middle" fill="#000" textLength="48.02" lengthAdjust="spacingAndGlyphs" >-500</text>
<text x="459.57" y="1360.50" font-size="25" text-anchor="middle" fill="#000" textLength="48.02" lengthAdjust="spacingAndGlyphs" >-400</text>
<text x="550.02" y="1360.50" font-size="25" text-anchor="middle" fill="#000" textLength="48.02" lengthAdjust="spacingAndGlyphs" >-300</text>
<text x="640.47" y="1360.50" font-size="25" text-anchor="middle" fill="#000" textLength="48.02" lengthAdjust="spacingAndGlyphs" >-200</text>
<text x="730.93" y="1360.50" font-size="25" text-anchor="middle" fill="#000" textLength="48.02" lengthAdjust="spacingAndGlyphs" >-100</text>
<text x="821.38" y="1360.50" font-size="25" text-anchor="middle" fill="#000" textLength="13.10" lengthAdjust="spacingAndGlyphs" >0</text>
<text x="911.82" y="1360.50" font-size="25" text-anchor="middle" fill="#000" textLength="39.31" lengthAdjust="spacingAndGlyphs" >100</text>
<text x="1002.27" y="1360.50" font-size="25" text-anchor="middle" fill="#000" textLength="39.31" lengthAdjust="spacingAndGlyphs" >200</text>
<text x="1092.72" y="1360.50" font-size="25" text-anchor="middle" fill="#000" textLength="39.31" lengthAdjust="spacingAndGlyphs" >300</text>
<text x="1183.18" y="1360.50" font-size="25" text-anchor="middle" fill="#000" textLength="39.31" lengthAdjust="spacingAndGlyphs" >400</text>
<text x="1273.62" y="1360.50" font-size="25" text-anchor="middle" fill="#000" textLength="39.31" lengthAdjust="spacingAndGlyphs" >500</text>
<text x="1364.08" y="1360.50" font-size="25" text-anchor="middle" fill="#000" textLength="39.31" lengthAdjust="spacingAndGlyphs" >600</text>
<text x="1454.53" y="1360.50" font-size="25" text-anchor="middle" fill="#000" textLength="39.31" lengthAdjust="spacingAndGlyphs" >700</text>
<text x="821.38" y="1395.50" font-size="24" text-anchor="middle" fill="#000" textLength="108.00" lengthAdjust="spacingAndGlyphs" >Δp [mbar]</text>
<text x="131.80" y="1339.90" font-size="25" text-anchor="end" fill="#000" textLength="13.10" lengthAdjust="spacingAndGlyphs" >0</text>
<text x="131.80" y="1308.88" font-size="25" text-anchor="end" fill="#000" textLength="26.21" lengthAdjust="spacingAndGlyphs" >20</text>
<text x="131.80" y="1277.86" font-size="25" text-anchor="end" fill="#000" textLength="26.21" lengthAdjust="spacingAndGlyphs" >40</text>
<text x="131.80" y="1246.84" font-size="25" text-anchor="end" fill="#000" textLength="26.21" lengthAdjust="spacingAndGlyphs" >60</text>
<text x="131.80" y="1215.82" font-size="25" text-anchor="end" fill="#000" textLength="26.21" lengthAdjust="spacingAndGlyphs" >80</text>
<text x="131.80" y="1184.80" font-size="25" text-anchor="end" fill="#000" textLength="39.31" lengthAdjust="spacingAndGlyphs" >100</text>
<text x="1511.50" y="1339.90" font-size="25" text-anchor="start" fill="#000" textLength="26.21" lengthAdjust="spacingAndGlyphs" >35</text>
<text x="1511.50" y="1308.88" font-size="25" text-anchor="start" fill="#000" textLength="26.21" lengthAdjust="spacingAndGlyphs" >70</text>
<text x="1511.50" y="1277.86" font-size="25" text-anchor="start" fill="#000" textLength="39.31" lengthAdjust="spacingAndGlyphs" >105</text>
<text x="1511.50" y="1246.84" font-size="25" text-anchor="start" fill="#000" textLength="39.31" lengthAdjust="spacingAndGlyphs" >140</text>
<text x="1511.50" y="1215.82" font-size="25" text-anchor="start" fill="#000" textLength="39.31" lengthAdjust="spacingAndGlyphs" >175</text>
<text x="1511.50" y="1184.80" font-size="25" text-anchor="start" fill="#000" textLength="39.31" lengthAdjust="spacingAndGlyphs" >210</text>
<text transform="translate(67.8,1254.2) rotate(-90)" x="0" y="0" font-size="25" text-anchor="middle" textLength="81.5" lengthAdjust="spacingAndGlyphs">ΔT [°C]</text>
<text transform="translate(1579,1252.4) rotate(90)" x="0" y="0" font-size="25" text-anchor="middle" textLength="79.5" lengthAdjust="spacingAndGlyphs">ΔT [°F]</text>
<rect x="135.1" y="1442" width="678.5500000000001" height="154.9000000000001" fill="#F7FAFE"/>
<rect x="813.6500000000001" y="1442" width="678.55" height="154.9000000000001" fill="#F4F8F3"/>
<line x1="180.34" y1="1442" x2="180.34" y2="1596.9" stroke="#BDC8D3" stroke-width="2" stroke-dasharray="3.8 1.6"/>
<line x1="270.81" y1="1442" x2="270.81" y2="1596.9" stroke="#BDC8D3" stroke-width="2" stroke-dasharray="3.8 1.6"/>
<line x1="361.28" y1="1442" x2="361.28" y2="1596.9" stroke="#BDC8D3" stroke-width="2" stroke-dasharray="3.8 1.6"/>
<line x1="451.76" y1="1442" x2="451.76" y2="1596.9" stroke="#BDC8D3" stroke-width="2" stroke-dasharray="3.8 1.6"/>
<line x1="542.23" y1="1442" x2="542.23" y2="1596.9" stroke="#BDC8D3" stroke-width="2" stroke-dasharray="3.8 1.6"/>
<line x1="632.70" y1="1442" x2="632.70" y2="1596.9" stroke="#BDC8D3" stroke-width="2" stroke-dasharray="3.8 1.6"/>
<line x1="723.18" y1="1442" x2="723.18" y2="1596.9" stroke="#BDC8D3" stroke-width="2" stroke-dasharray="3.8 1.6"/>
<line x1="904.12" y1="1442" x2="904.12" y2="1596.9" stroke="#BAC5B8" stroke-width="2" stroke-dasharray="3.8 1.6"/>
<line x1="994.60" y1="1442" x2="994.60" y2="1596.9" stroke="#BAC5B8" stroke-width="2" stroke-dasharray="3.8 1.6"/>
<line x1="1085.07" y1="1442" x2="1085.07" y2="1596.9" stroke="#BAC5B8" stroke-width="2" stroke-dasharray="3.8 1.6"/>
<line x1="1175.54" y1="1442" x2="1175.54" y2="1596.9" stroke="#BAC5B8" stroke-width="2" stroke-dasharray="3.8 1.6"/>
<line x1="1266.02" y1="1442" x2="1266.02" y2="1596.9" stroke="#BAC5B8" stroke-width="2" stroke-dasharray="3.8 1.6"/>
<line x1="1356.49" y1="1442" x2="1356.49" y2="1596.9" stroke="#BAC5B8" stroke-width="2" stroke-dasharray="3.8 1.6"/>
<line x1="1446.96" y1="1442" x2="1446.96" y2="1596.9" stroke="#BAC5B8" stroke-width="2" stroke-dasharray="3.8 1.6"/>
<line x1="135.1" y1="1596.90" x2="813.65" y2="1596.90" stroke="#BDC8D3" stroke-width="2" stroke-dasharray="3.8 1.6"/>
<line x1="813.65" y1="1596.90" x2="1492.2" y2="1596.90" stroke="#BAC5B8" stroke-width="2" stroke-dasharray="3.8 1.6"/>
<line x1="135.1" y1="1558.18" x2="813.65" y2="1558.18" stroke="#BDC8D3" stroke-width="2" stroke-dasharray="3.8 1.6"/>
<line x1="813.65" y1="1558.18" x2="1492.2" y2="1558.18" stroke="#BAC5B8" stroke-width="2" stroke-dasharray="3.8 1.6"/>
<line x1="135.1" y1="1519.45" x2="813.65" y2="1519.45" stroke="#BDC8D3" stroke-width="2" stroke-dasharray="3.8 1.6"/>
<line x1="813.65" y1="1519.45" x2="1492.2" y2="1519.45" stroke="#BAC5B8" stroke-width="2" stroke-dasharray="3.8 1.6"/>
<line x1="135.1" y1="1480.72" x2="813.65" y2="1480.72" stroke="#BDC8D3" stroke-width="2" stroke-dasharray="3.8 1.6"/>
<line x1="813.65" y1="1480.72" x2="1492.2" y2="1480.72" stroke="#BAC5B8" stroke-width="2" stroke-dasharray="3.8 1.6"/>
<line x1="135.1" y1="1442.00" x2="813.65" y2="1442.00" stroke="#BDC8D3" stroke-width="2" stroke-dasharray="3.8 1.6"/>
<line x1="813.65" y1="1442.00" x2="1492.2" y2="1442.00" stroke="#BAC5B8" stroke-width="2" stroke-dasharray="3.8 1.6"/>
<line x1="813.65" y1="1442" x2="813.65" y2="1596.9" stroke="#8A9290" stroke-width="1.6"/>
<polyline points="429.14,1503.96 435.66,1505.13 442.17,1506.30 448.69,1507.47 455.21,1508.64 461.72,1509.81 468.24,1510.99 474.76,1512.16 481.28,1513.33 487.79,1514.50 494.31,1515.67 500.83,1516.84 507.34,1518.01 513.86,1519.18 520.38,1520.35 526.90,1521.52 533.41,1522.70 539.93,1523.87 546.45,1525.04 552.96,1526.21 559.48,1527.38 566.00,1528.55 572.52,1529.72 579.03,1530.89 585.55,1532.06 592.07,1533.23 598.58,1534.40 605.10,1535.58 611.62,1536.75 618.14,1537.92 624.65,1539.09 631.17,1540.26 637.69,1541.43 644.20,1542.60 650.72,1543.77 657.24,1544.94 663.76,1546.11 670.27,1547.28 676.79,1548.46 683.31,1549.63 689.82,1550.80 696.34,1551.97 702.86,1553.14 709.38,1554.31 715.89,1555.48 722.41,1556.65 728.93,1557.82 735.44,1558.99 741.96,1560.17 748.48,1561.34 755.00,1562.51 761.51,1563.68 768.03,1564.85 774.55,1566.02 781.06,1567.19 787.58,1568.36 794.10,1569.53 800.62,1570.70 807.13,1571.87 813.65,1573.05 823.62,1571.25 833.58,1569.46 843.55,1567.67 853.52,1565.88 863.49,1564.09 873.45,1562.30 883.42,1560.51 893.39,1558.72 903.36,1556.93 913.32,1555.14 923.29,1553.35 933.26,1551.56 943.23,1549.77 953.19,1547.98 963.16,1546.19 973.13,1544.40 983.10,1542.61 993.06,1540.82 1003.03,1539.03 1013.00,1537.23 1022.97,1535.44 1032.93,1533.65 1042.90,1531.86 1052.87,1530.07 1062.84,1528.28 1072.80,1526.49 1082.77,1524.70 1092.74,1522.91 1102.70,1521.12 1112.67,1519.33 1122.64,1517.54 1132.61,1515.75 1142.57,1513.96 1152.54,1512.17 1162.51,1510.38 1172.48,1508.59 1182.44,1506.80 1192.41,1505.00 1202.38,1503.21 1212.35,1501.42 1222.31,1499.63 1232.28,1497.84 1242.25,1496.05 1252.22,1494.26 1262.18,1492.47 1272.15,1490.68 1282.12,1488.89 1292.09,1487.10 1302.05,1485.31 1312.02,1483.52 1321.99,1481.73 1331.95,1479.94 1341.92,1478.15 1351.89,1476.36 1361.86,1474.57 1371.82,1472.78 1381.79,1470.98 1391.76,1469.19 1401.73,1467.40" fill="none" stroke="#4C4C4C" stroke-width="4" stroke-linejoin="miter" />
<polyline points="429.14,1472.21 435.66,1473.61 442.17,1475.01 448.69,1476.42 455.21,1477.82 461.72,1479.23 468.24,1480.63 474.76,1482.04 481.28,1483.44 487.79,1484.85 494.31,1486.25 500.83,1487.66 507.34,1489.06 513.86,1490.47 520.38,1491.87 526.90,1493.27 533.41,1494.68 539.93,1496.08 546.45,1497.49 552.96,1498.89 559.48,1500.30 566.00,1501.70 572.52,1503.11 579.03,1504.51 585.55,1505.92 592.07,1507.32 598.58,1508.73 605.10,1510.13 611.62,1511.53 618.14,1512.94 624.65,1514.34 631.17,1515.75 637.69,1517.15 644.20,1518.56 650.72,1519.96 657.24,1521.37 663.76,1522.77 670.27,1524.18 676.79,1525.58 683.31,1526.98 689.82,1528.39 696.34,1529.79 702.86,1531.20 709.38,1532.60 715.89,1534.01 722.41,1535.41 728.93,1536.82 735.44,1538.22 741.96,1539.63 748.48,1541.03 755.00,1542.44 761.51,1543.84 768.03,1545.24 774.55,1546.65 781.06,1548.05 787.58,1549.46 794.10,1550.86 800.62,1552.27 807.13,1553.67 813.65,1555.08 822.24,1553.20 830.82,1551.33 839.41,1549.45 848.00,1547.58 856.59,1545.70 865.17,1543.83 873.76,1541.96 882.35,1540.08 890.94,1538.21 899.52,1536.33 908.11,1534.46 916.70,1532.58 925.28,1530.71 933.87,1528.83 942.46,1526.96 951.05,1525.08 959.63,1523.21 968.22,1521.34 976.81,1519.46 985.40,1517.59 993.98,1515.71 1002.57,1513.84 1011.16,1511.96 1019.75,1510.09 1028.33,1508.21 1036.92,1506.34 1045.51,1504.46 1054.09,1502.59 1062.68,1500.71 1071.27,1498.84 1079.86,1496.97 1088.44,1495.09 1097.03,1493.22 1105.62,1491.34 1114.21,1489.47 1122.79,1487.59 1131.38,1485.72 1139.97,1483.84 1148.55,1481.97 1157.14,1480.09 1165.73,1478.22 1174.32,1476.35 1182.90,1474.47 1191.49,1472.60 1200.08,1470.72 1208.67,1468.85 1217.25,1466.97 1225.84,1465.10 1234.43,1463.22 1243.01,1461.35 1251.60,1459.47 1260.19,1457.60 1268.78,1455.73 1277.36,1453.85 1285.95,1451.98 1294.54,1450.10 1303.13,1448.23 1311.71,1446.35 1320.30,1444.48" fill="none" stroke="#4C4C4C" stroke-width="4" stroke-linejoin="miter" stroke-dasharray="18.5 3.8"/>
<line x1="135.1" y1="1596.9" x2="1492.2" y2="1596.9" stroke="#000" stroke-width="1.8"/>
<line x1="135.1" y1="1441.1" x2="135.1" y2="1597.8000000000002" stroke="#000" stroke-width="1.8"/>
<line x1="1492.2" y1="1441.1" x2="1492.2" y2="1597.8000000000002" stroke="#000" stroke-width="1.8"/>
<path d="M144.15,1596.9 v-4.5 M162.24,1596.9 v-4.5 M180.34,1596.9 v-10 M198.43,1596.9 v-4.5 M216.53,1596.9 v-4.5 M234.62,1596.9 v-4.5 M252.72,1596.9 v-4.5 M270.81,1596.9 v-10 M288.90,1596.9 v-4.5 M307.00,1596.9 v-4.5 M325.09,1596.9 v-4.5 M343.19,1596.9 v-4.5 M361.28,1596.9 v-10 M379.38,1596.9 v-4.5 M397.47,1596.9 v-4.5 M415.57,1596.9 v-4.5 M433.66,1596.9 v-4.5 M451.76,1596.9 v-10 M469.85,1596.9 v-4.5 M487.95,1596.9 v-4.5 M506.04,1596.9 v-4.5 M524.14,1596.9 v-4.5 M542.23,1596.9 v-10 M560.32,1596.9 v-4.5 M578.42,1596.9 v-4.5 M596.51,1596.9 v-4.5 M614.61,1596.9 v-4.5 M632.70,1596.9 v-10 M650.80,1596.9 v-4.5 M668.89,1596.9 v-4.5 M686.99,1596.9 v-4.5 M705.08,1596.9 v-4.5 M723.18,1596.9 v-10 M741.27,1596.9 v-4.5 M759.37,1596.9 v-4.5 M777.46,1596.9 v-4.5 M795.56,1596.9 v-4.5 M813.65,1596.9 v-10 M831.74,1596.9 v-4.5 M849.84,1596.9 v-4.5 M867.93,1596.9 v-4.5 M886.03,1596.9 v-4.5 M904.12,1596.9 v-10 M922.22,1596.9 v-4.5 M940.31,1596.9 v-4.5 M958.41,1596.9 v-4.5 M976.50,1596.9 v-4.5 M994.60,1596.9 v-10 M1012.69,1596.9 v-4.5 M1030.79,1596.9 v-4.5 M1048.88,1596.9 v-4.5 M1066.98,1596.9 v-4.5 M1085.07,1596.9 v-10 M1103.16,1596.9 v-4.5 M1121.26,1596.9 v-4.5 M1139.35,1596.9 v-4.5 M1157.45,1596.9 v-4.5 M1175.54,1596.9 v-10 M1193.64,1596.9 v-4.5 M1211.73,1596.9 v-4.5 M1229.83,1596.9 v-4.5 M1247.92,1596.9 v-4.5 M1266.02,1596.9 v-10 M1284.11,1596.9 v-4.5 M1302.21,1596.9 v-4.5 M1320.30,1596.9 v-4.5 M1338.40,1596.9 v-4.5 M1356.49,1596.9 v-10 M1374.58,1596.9 v-4.5 M1392.68,1596.9 v-4.5 M1410.77,1596.9 v-4.5 M1428.87,1596.9 v-4.5 M1446.96,1596.9 v-10 M1465.06,1596.9 v-4.5 M1483.15,1596.9 v-4.5 M135.1,1596.90 h10 M135.1,1589.16 h4.5 M135.1,1581.41 h4.5 M135.1,1573.66 h4.5 M135.1,1565.92 h4.5 M135.1,1558.18 h10 M135.1,1550.43 h4.5 M135.1,1542.68 h4.5 M135.1,1534.94 h4.5 M135.1,1527.20 h4.5 M135.1,1519.45 h10 M135.1,1511.70 h4.5 M135.1,1503.96 h4.5 M135.1,1496.22 h4.5 M135.1,1488.47 h4.5 M135.1,1480.72 h10 M135.1,1472.98 h4.5 M135.1,1465.24 h4.5 M135.1,1457.49 h4.5 M135.1,1449.74 h4.5 M135.1,1442.00 h10 M1492.2,1596.90 h-10 M1492.2,1583.99 h-4.5 M1492.2,1571.08 h-4.5 M1492.2,1558.18 h-10 M1492.2,1545.27 h-4.5 M1492.2,1532.36 h-4.5 M1492.2,1519.45 h-10 M1492.2,1506.54 h-4.5 M1492.2,1493.63 h-4.5 M1492.2,1480.72 h-10 M1492.2,1467.82 h-4.5 M1492.2,1454.91 h-4.5 M1492.2,1442.00 h-10" stroke="#000" stroke-width="1.5" fill="none"/>
<text x="180.34" y="1626.90" font-size="25" text-anchor="middle" fill="#000" textLength="48.02" lengthAdjust="spacingAndGlyphs" >-700</text>
<text x="270.81" y="1626.90" font-size="25" text-anchor="middle" fill="#000" textLength="48.02" lengthAdjust="spacingAndGlyphs" >-600</text>
<text x="361.28" y="1626.90" font-size="25" text-anchor="middle" fill="#000" textLength="48.02" lengthAdjust="spacingAndGlyphs" >-500</text>
<text x="451.76" y="1626.90" font-size="25" text-anchor="middle" fill="#000" textLength="48.02" lengthAdjust="spacingAndGlyphs" >-400</text>
<text x="542.23" y="1626.90" font-size="25" text-anchor="middle" fill="#000" textLength="48.02" lengthAdjust="spacingAndGlyphs" >-300</text>
<text x="632.70" y="1626.90" font-size="25" text-anchor="middle" fill="#000" textLength="48.02" lengthAdjust="spacingAndGlyphs" >-200</text>
<text x="723.18" y="1626.90" font-size="25" text-anchor="middle" fill="#000" textLength="48.02" lengthAdjust="spacingAndGlyphs" >-100</text>
<text x="813.65" y="1626.90" font-size="25" text-anchor="middle" fill="#000" textLength="13.10" lengthAdjust="spacingAndGlyphs" >0</text>
<text x="904.12" y="1626.90" font-size="25" text-anchor="middle" fill="#000" textLength="39.31" lengthAdjust="spacingAndGlyphs" >100</text>
<text x="994.60" y="1626.90" font-size="25" text-anchor="middle" fill="#000" textLength="39.31" lengthAdjust="spacingAndGlyphs" >200</text>
<text x="1085.07" y="1626.90" font-size="25" text-anchor="middle" fill="#000" textLength="39.31" lengthAdjust="spacingAndGlyphs" >300</text>
<text x="1175.54" y="1626.90" font-size="25" text-anchor="middle" fill="#000" textLength="39.31" lengthAdjust="spacingAndGlyphs" >400</text>
<text x="1266.02" y="1626.90" font-size="25" text-anchor="middle" fill="#000" textLength="39.31" lengthAdjust="spacingAndGlyphs" >500</text>
<text x="1356.49" y="1626.90" font-size="25" text-anchor="middle" fill="#000" textLength="39.31" lengthAdjust="spacingAndGlyphs" >600</text>
<text x="1446.96" y="1626.90" font-size="25" text-anchor="middle" fill="#000" textLength="39.31" lengthAdjust="spacingAndGlyphs" >700</text>
<text x="813.65" y="1662.40" font-size="24" text-anchor="middle" fill="#000" textLength="108.00" lengthAdjust="spacingAndGlyphs" >Δp [mbar]</text>
<text x="124.80" y="1605.90" font-size="25" text-anchor="end" fill="#000" textLength="13.10" lengthAdjust="spacingAndGlyphs" >0</text>
<text x="124.80" y="1567.18" font-size="25" text-anchor="end" fill="#000" textLength="34.18" lengthAdjust="spacingAndGlyphs" >2.5</text>
<text x="124.80" y="1528.45" font-size="25" text-anchor="end" fill="#000" textLength="13.10" lengthAdjust="spacingAndGlyphs" >5</text>
<text x="124.80" y="1489.72" font-size="25" text-anchor="end" fill="#000" textLength="34.18" lengthAdjust="spacingAndGlyphs" >7.5</text>
<text x="124.80" y="1451.00" font-size="25" text-anchor="end" fill="#000" textLength="26.21" lengthAdjust="spacingAndGlyphs" >10</text>
<text x="1505.50" y="1605.90" font-size="25" text-anchor="start" fill="#000" textLength="13.10" lengthAdjust="spacingAndGlyphs" >0</text>
<text x="1505.50" y="1567.18" font-size="25" text-anchor="start" fill="#000" textLength="34.18" lengthAdjust="spacingAndGlyphs" >3.3</text>
<text x="1505.50" y="1528.45" font-size="25" text-anchor="start" fill="#000" textLength="34.18" lengthAdjust="spacingAndGlyphs" >6.6</text>
<text x="1505.50" y="1489.72" font-size="25" text-anchor="start" fill="#000" textLength="34.18" lengthAdjust="spacingAndGlyphs" >9.9</text>
<text x="1505.50" y="1451.00" font-size="25" text-anchor="start" fill="#000" textLength="47.28" lengthAdjust="spacingAndGlyphs" >13.2</text>
<text transform="translate(68.2,1519.9) rotate(-90)" x="0" y="0" font-size="25" text-anchor="middle" textLength="69.5" lengthAdjust="spacingAndGlyphs">P [kW]</text>
<text transform="translate(1579.2,1519) rotate(90)" x="0" y="0" font-size="25" text-anchor="middle" textLength="63.5" lengthAdjust="spacingAndGlyphs">P [hp]</text>
<rect x="395.6" y="799.6" width="41.0" height="37.69999999999993" fill="#FFF" stroke="#000" stroke-width="1.4"/>
<text x="416.10" y="827.60" font-size="25" text-anchor="middle" fill="#000" textLength="34.18" lengthAdjust="spacingAndGlyphs" >9.0</text>
<circle cx="436.6" cy="837.3" r="2.2" fill="#000"/>
<rect x="395.6" y="873.2" width="41.0" height="37.69999999999993" fill="#FFF" stroke="#000" stroke-width="1.4"/>
<text x="416.10" y="901.20" font-size="25" text-anchor="middle" fill="#000" textLength="34.18" lengthAdjust="spacingAndGlyphs" >7.5</text>
<circle cx="436.6" cy="910.9" r="2.2" fill="#000"/>
<rect x="1204.8" y="760" width="41.799999999999955" height="36.700000000000045" fill="#FFF" stroke="#000" stroke-width="1.4"/>
<text x="1225.70" y="788.00" font-size="25" text-anchor="middle" fill="#000" textLength="34.18" lengthAdjust="spacingAndGlyphs" >9.0</text>
<circle cx="1204.8" cy="796.7" r="2.2" fill="#000"/>
<rect x="1327.7" y="777.7" width="56.299999999999955" height="37.799999999999955" fill="#FFF" stroke="#000" stroke-width="1.4"/>
<text x="1355.85" y="805.70" font-size="25" text-anchor="middle" fill="#000" textLength="47.28" lengthAdjust="spacingAndGlyphs" >11.0</text>
<circle cx="1327.7" cy="815.5" r="2.2" fill="#000"/>
<rect x="1287.2" y="842" width="40.799999999999955" height="36.700000000000045" fill="#FFF" stroke="#000" stroke-width="1.4"/>
<text x="1307.60" y="870.00" font-size="25" text-anchor="middle" fill="#000" textLength="34.18" lengthAdjust="spacingAndGlyphs" >7.5</text>
<circle cx="1287.2" cy="878.7" r="2.2" fill="#000"/>
<rect x="1409.1" y="860.4" width="41.40000000000009" height="37.39999999999998" fill="#FFF" stroke="#000" stroke-width="1.4"/>
<text x="1429.80" y="888.40" font-size="25" text-anchor="middle" fill="#000" textLength="34.18" lengthAdjust="spacingAndGlyphs" >9.2</text>
<circle cx="1409.1" cy="897.8" r="2.2" fill="#000"/>
<rect x="677.7" y="955.4" width="287.1" height="91.3" fill="#FFF" stroke="#000" stroke-width="1.5"/>
<line x1="696.4" y1="981.4" x2="755.9" y2="981.4" stroke="#4C4C4C" stroke-width="3.6"/>
<line x1="696.4" y1="1022.3" x2="755.9" y2="1022.3" stroke="#4C4C4C" stroke-width="3.6" stroke-dasharray="17.5 3.5"/>
<text x="769.30" y="988.20" font-size="24" text-anchor="start" fill="#000" textLength="177.00" lengthAdjust="spacingAndGlyphs" >K 10 MD @ 50Hz</text>
<text x="769.30" y="1029.60" font-size="24" text-anchor="start" fill="#000" textLength="177.00" lengthAdjust="spacingAndGlyphs" >K 10 MD @ 60Hz</text>
</svg>
</body></html>
